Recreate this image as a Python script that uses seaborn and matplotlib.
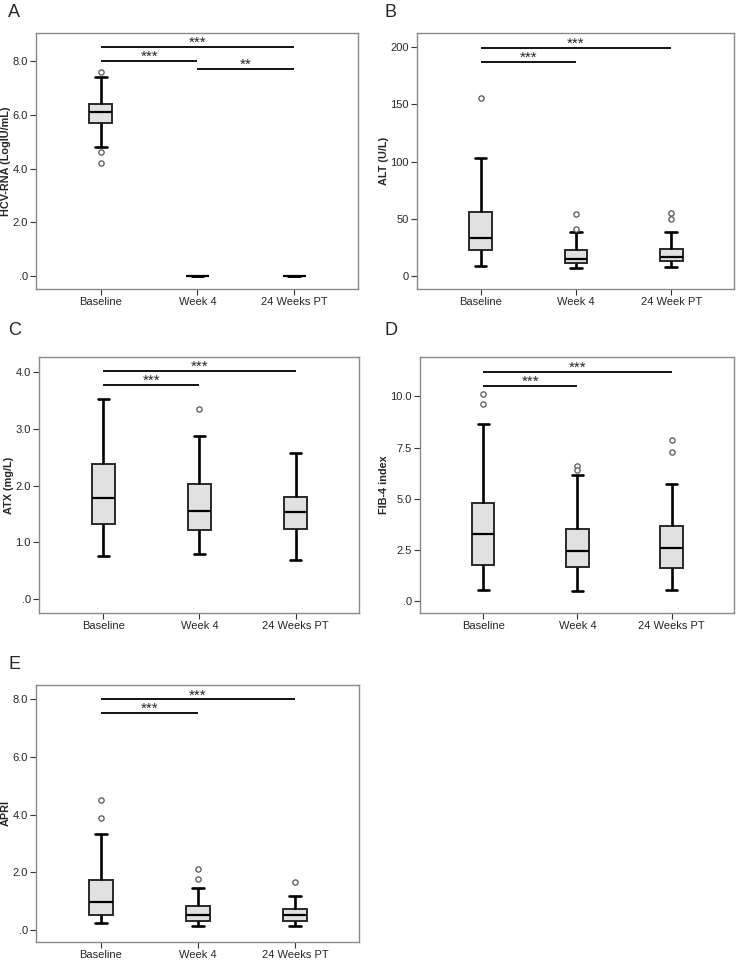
import numpy as np
import pandas as pd
import matplotlib
matplotlib.use('Agg')
import matplotlib.pyplot as plt
import seaborn as sns

sns.set_style('ticks')
plt.rcParams['font.family'] = ['Liberation Sans', 'DejaVu Sans']

# categories
cats = ['Baseline', 'Week 4', '24 Weeks PT']
cats_alt = ['Baseline', 'Week 4', '24 Week PT']

# A: HCV-RNA (box summaries: lower whisker, Q1, median, Q3, upper whisker)
hcv_low = [4.8, 0.0, 0.0]
hcv_q1 = [5.7, 0.0, 0.0]
hcv_med = [6.1, 0.0, 0.0]
hcv_q3 = [6.4, 0.0, 0.0]
hcv_high = [7.4, 0.0, 0.0]
hcv_out_grp = ['Baseline', 'Baseline', 'Baseline']
hcv_out_val = [7.6, 4.6, 4.2]
hcv_sig_from = [0, 0, 1]
hcv_sig_to = [2, 1, 2]
hcv_sig_y = [8.52, 8.0, 7.71]
hcv_sig_txt = ['***', '***', '**']

# B: ALT
alt_low = [9, 7, 8]
alt_q1 = [23, 12, 13]
alt_med = [33, 15, 17]
alt_q3 = [56, 23, 24]
alt_high = [103, 39, 39]
alt_out_grp = ['Baseline', 'Week 4', 'Week 4', '24 Week PT', '24 Week PT']
alt_out_val = [155, 54, 41, 55, 50]
alt_sig_from = [0, 0]
alt_sig_to = [2, 1]
alt_sig_y = [199, 187]
alt_sig_txt = ['***', '***']

# C: ATX
atx_low = [0.76, 0.79, 0.70]
atx_q1 = [1.32, 1.22, 1.24]
atx_med = [1.79, 1.56, 1.53]
atx_q3 = [2.38, 2.03, 1.80]
atx_high = [3.53, 2.87, 2.58]
atx_out_grp = ['Week 4']
atx_out_val = [3.35]
atx_sig_from = [0, 0]
atx_sig_to = [2, 1]
atx_sig_y = [4.01, 3.77]
atx_sig_txt = ['***', '***']

# D: FIB-4
fib_low = [0.55, 0.50, 0.57]
fib_q1 = [1.76, 1.66, 1.64]
fib_med = [3.27, 2.47, 2.59]
fib_q3 = [4.78, 3.53, 3.69]
fib_high = [8.63, 6.15, 5.71]
fib_out_grp = ['Baseline', 'Baseline', 'Week 4', 'Week 4', '24 Weeks PT', '24 Weeks PT']
fib_out_val = [10.1, 9.64, 6.62, 6.41, 7.85, 7.28]
fib_sig_from = [0, 0]
fib_sig_to = [2, 1]
fib_sig_y = [11.2, 10.52]
fib_sig_txt = ['***', '***']

# E: APRI
apri_low = [0.24, 0.16, 0.16]
apri_q1 = [0.53, 0.30, 0.33]
apri_med = [0.98, 0.51, 0.52]
apri_q3 = [1.73, 0.84, 0.74]
apri_high = [3.34, 1.45, 1.20]
apri_out_grp = ['Baseline', 'Baseline', 'Week 4', 'Week 4', '24 Weeks PT']
apri_out_val = [4.51, 3.87, 2.13, 1.78, 1.68]
apri_sig_from = [0, 0]
apri_sig_to = [2, 1]
apri_sig_y = [7.99, 7.52]
apri_sig_txt = ['***', '***']

fig = plt.figure(figsize=(7.37, 9.6), dpi=100)
W, H = 737.0, 960.0


def make_ax(left, top, right, bottom):
    return fig.add_axes([left / W, 1 - bottom / H, (right - left) / W, (bottom - top) / H])


def draw_panel(ax, order, low, q1, med, q3, high, out_grp, out_val,
               sig_from, sig_to, sig_y, sig_txt, ylim, yticks, yticklabels, ylabel):
    rows = []
    for g, a, b, c, d, e in zip(order, low, q1, med, q3, high):
        for v in (a, b, c, d, e):
            rows.append({'time': g, 'value': v})
    df = pd.DataFrame(rows)
    sns.boxplot(data=df, x='time', y='value', order=order, whis=np.inf, width=0.24,
                color='#e1e1e1', saturation=1, linecolor='#2a2a2a', linewidth=1.4,
                medianprops={'color': 'black', 'linewidth': 1.6},
                whiskerprops={'color': 'black', 'linewidth': 1.9},
                capprops={'color': 'black', 'linewidth': 1.9},
                showfliers=False, ax=ax)
    if out_val:
        sns.stripplot(x=out_grp, y=out_val, order=order, jitter=False, color='white',
                      edgecolor='#555555', linewidth=0.9, size=3.8, ax=ax, zorder=5)
    for f, t, y, s in zip(sig_from, sig_to, sig_y, sig_txt):
        ax.plot([f, t], [y, y], color='black', lw=1.3, solid_capstyle='butt')
        ax.annotate(s, xy=((f + t) / 2, y), xytext=(0, 0), textcoords='offset pixels',
                    ha='center', va='baseline', fontsize=11)
    ax.set_xlim(-0.67, 2.66)
    ax.set_ylim(*ylim)
    ax.set_yticks(yticks)
    ax.set_yticklabels(yticklabels)
    ax.set_xlabel('')
    ax.set_ylabel(ylabel, fontsize=7.8, fontweight='bold', labelpad=1)
    ax.tick_params(axis='both', labelsize=8, length=4, width=0.8, color='#333333', pad=2)
    ax.tick_params(axis='x', pad=1.5)
    for sp in ax.spines.values():
        sp.set_visible(True)
        sp.set_color('#8a8a8a')
        sp.set_linewidth(1.0)


ax_a = make_ax(36, 33, 358, 289)
draw_panel(ax_a, cats, hcv_low, hcv_q1, hcv_med, hcv_q3, hcv_high, hcv_out_grp, hcv_out_val,
           hcv_sig_from, hcv_sig_to, hcv_sig_y, hcv_sig_txt, (-0.48, 9.04),
           [0, 2, 4, 6, 8], ['.0', '2.0', '4.0', '6.0', '8.0'], 'HCV-RNA (LogIU/mL)')

ax_b = make_ax(417, 33, 734, 289)
draw_panel(ax_b, cats_alt, alt_low, alt_q1, alt_med, alt_q3, alt_high, alt_out_grp, alt_out_val,
           alt_sig_from, alt_sig_to, alt_sig_y, alt_sig_txt, (-11, 212),
           [0, 50, 100, 150, 200], ['0', '50', '100', '150', '200'], 'ALT (U/L)')

ax_c = make_ax(39, 357, 359, 613)
draw_panel(ax_c, cats, atx_low, atx_q1, atx_med, atx_q3, atx_high, atx_out_grp, atx_out_val,
           atx_sig_from, atx_sig_to, atx_sig_y, atx_sig_txt, (-0.24, 4.26),
           [0, 1, 2, 3, 4], ['.0', '1.0', '2.0', '3.0', '4.0'], 'ATX (mg/L)')

ax_d = make_ax(420, 357, 734, 613)
draw_panel(ax_d, cats, fib_low, fib_q1, fib_med, fib_q3, fib_high, fib_out_grp, fib_out_val,
           fib_sig_from, fib_sig_to, fib_sig_y, fib_sig_txt, (-0.57, 11.92),
           [0, 2.5, 5, 7.5, 10], ['.0', '2.5', '5.0', '7.5', '10.0'], 'FIB-4 index')

ax_e = make_ax(36, 685, 359, 942)
draw_panel(ax_e, cats, apri_low, apri_q1, apri_med, apri_q3, apri_high, apri_out_grp, apri_out_val,
           apri_sig_from, apri_sig_to, apri_sig_y, apri_sig_txt, (-0.41, 8.49),
           [0, 2, 4, 6, 8], ['.0', '2.0', '4.0', '6.0', '8.0'], 'APRI')

# panel letters
for letter, x, y in [('A', 8, 4), ('B', 385, 4), ('C', 8, 322), ('D', 385, 322), ('E', 8, 656)]:
    fig.text(x / W, 1 - y / H, letter, fontsize=13, ha='left', va='top')

fig.savefig('out.png', dpi=100, facecolor='white')
